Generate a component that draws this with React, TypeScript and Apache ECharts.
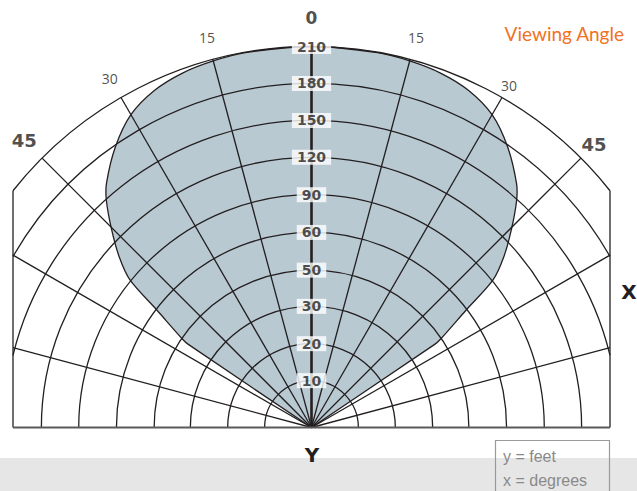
import React, { useEffect, useRef } from "react";
import * as echarts from "echarts";

// ---------- data ----------
// ring (distance) tick labels in feet, and ring positions (outer ring = 10)
const ringLabels = ["10", "20", "30", "50", "60", "90", "120", "150", "180", "210"];
const ringPos = [1.23, 2.2, 3.18, 4.13, 5.12, 6.11, 7.09, 8.06, 9.03, 10];
// spokes, degrees from vertical (negative = left)
const spokeAngles = [-75, -60, -45, -30, -15, 0, 15, 30, 45, 60, 75];
// angle tick labels
const angleLabelDeg = [-45, -30, -15, 0, 15, 30, 45];
const angleLabelText = ["45", "30", "15", "0", "15", "30", "45"];
// viewing-angle pattern boundary (polar: degrees, ring radius)
const shapeAngles = [-56, -56, -55.6, -52.8, -50.9, -48.5, -45.3, -42.1, -40, -35, -30, -25, -20, -15, -10, 0, 10, 15, 20, 25, 30, 35, 40, 42.1, 45.3, 48.5, 50.9, 52.8, 55.6, 56, 56];
const shapeRadii = [0, 3.9, 4.1, 5.09, 6.14, 6.73, 7.38, 8.03, 8.37, 8.98, 9.48, 9.76, 9.9, 9.96, 9.99, 10, 9.99, 9.96, 9.9, 9.76, 9.48, 8.98, 8.37, 8.03, 7.38, 6.73, 6.14, 5.09, 4.1, 3.9, 0];

// ---------- layout ----------
const W = 637;
const H = 491;
const U = 38.1; // px per radius unit
const GRID_LEFT = 13;
const GRID_RIGHT = 27;
const GRID_BOTTOM = 63.5;
const XH = (W - GRID_LEFT - GRID_RIGHT) / 2 / U;
const YMAX = (H - GRID_BOTTOM) / U;
const R_OUT = 10;
const angleLabelR = [10.66, 10.59, 10.6, 10.75, 10.59, 10.37, 10.49];
const LINE = "#231f20";
const FONT = "Lato, 'Open Sans', sans-serif";
const FONT2 = "'Open Sans', 'Noto Sans', sans-serif";
const FONTB = "'DejaVu Sans', sans-serif";

const rad = (d: number) => (d * Math.PI) / 180;

export default function App() {
  const ref = useRef<HTMLDivElement>(null);

  useEffect(() => {
    if (!ref.current) return;
    const chart = echarts.init(ref.current, undefined, { renderer: "svg" });

    const option: any = {
      animation: false,
      backgroundColor: "#ffffff",
      grid: { left: GRID_LEFT, right: GRID_RIGHT, top: 0, bottom: GRID_BOTTOM },
      xAxis: { type: "value", min: -XH, max: XH, show: false },
      yAxis: { type: "value", min: 0, max: YMAX, show: false },
      graphic: [
        { type: "rect", z: 0, shape: { x: 0, y: 458, width: W, height: H - 458 }, style: { fill: "#e6e6e6" } },
        { type: "rect", z: 1, shape: { x: 495.5, y: 440.5, width: 114, height: 70 }, style: { fill: "none", stroke: "#9a9a9a", lineWidth: 1.2 } },
        { type: "text", z: 2, x: 503, y: 456, style: { text: "y = feet", fill: "#8a8a8a", font: "16px 'Liberation Sans', Arial, sans-serif", textAlign: "left", textVerticalAlign: "middle" } },
        { type: "text", z: 2, x: 503, y: 480, style: { text: "x = degrees", fill: "#8a8a8a", font: "16px 'Liberation Sans', Arial, sans-serif", textAlign: "left", textVerticalAlign: "middle" } },
        { type: "text", z: 2, x: 624, y: 33, style: { text: "Viewing Angle", fill: "#f07224", font: "19px " + FONT, textAlign: "right", textVerticalAlign: "middle" } },
        { type: "text", z: 2, x: 629, y: 292, style: { text: "X", fill: LINE, font: "bold 20px " + FONTB, textAlign: "center", textVerticalAlign: "middle" } },
        { type: "text", z: 2, x: 312, y: 455, style: { text: "Y", fill: LINE, font: "bold 20px " + FONTB, textAlign: "center", textVerticalAlign: "middle" } },
      ],
      series: [
        {
          type: "custom",
          name: "pattern",
          z: 1,
          clip: false,
          data: [[0]],
          renderItem: (params: any, api: any) => {
            const pts = shapeAngles.map((a, i) =>
              api.coord([shapeRadii[i] * Math.sin(rad(a)), shapeRadii[i] * Math.cos(rad(a))])
            );
            return {
              type: "polygon",
              shape: { points: pts, smooth: 0.3 },
              style: { fill: "#b9c9d2", stroke: LINE, lineWidth: 1.3 },
            };
          },
        },
        {
          type: "custom",
          name: "rings",
          z: 2,
          clip: false,
          data: ringPos.map((r) => [r]),
          renderItem: (params: any, api: any) => {
            const r = api.value(0);
            const c = api.coord([0, 0]);
            const rp = api.size([r, 0])[0];
            const hw = api.size([XH, 0])[0];
            const a = rp > hw ? Math.acos(hw / rp) : 0;
            return {
              type: "arc",
              shape: { cx: c[0], cy: c[1], r: rp, startAngle: Math.PI + a, endAngle: 2 * Math.PI - a, clockwise: true },
              style: { stroke: LINE, lineWidth: 1.3, fill: "none" },
            };
          },
        },
        {
          type: "custom",
          name: "spokes",
          z: 2,
          clip: false,
          data: spokeAngles.map((a) => [a]),
          renderItem: (params: any, api: any) => {
            const a = rad(api.value(0));
            const s = Math.abs(Math.sin(a));
            const rEnd = s > 0 ? Math.min(R_OUT, XH / s) : R_OUT;
            const p0 = api.coord([0, 0]);
            const p1 = api.coord([rEnd * Math.sin(a), rEnd * Math.cos(a)]);
            return {
              type: "line",
              shape: { x1: p0[0], y1: p0[1], x2: p1[0], y2: p1[1] },
              style: { stroke: LINE, lineWidth: api.value(0) === 0 ? 2.6 : 1.3 },
            };
          },
        },
        {
          type: "custom",
          name: "frame",
          z: 2,
          clip: false,
          data: [[0]],
          renderItem: (params: any, api: any) => {
            const yEdge = Math.sqrt(R_OUT * R_OUT - XH * XH);
            const a = api.coord([-XH, yEdge]);
            const b = api.coord([-XH, 0]);
            const c = api.coord([XH, 0]);
            const d = api.coord([XH, yEdge]);
            return {
              type: "group",
              children: [
                { type: "line", shape: { x1: a[0], y1: a[1], x2: b[0], y2: b[1] }, style: { stroke: LINE, lineWidth: 1.3 } },
                { type: "line", shape: { x1: d[0], y1: d[1], x2: c[0], y2: c[1] }, style: { stroke: LINE, lineWidth: 1.3 } },
                { type: "line", shape: { x1: b[0], y1: b[1], x2: c[0], y2: c[1] }, style: { stroke: "#5a5a5a", lineWidth: 2.2 } },
              ],
            };
          },
        },
        {
          type: "scatter",
          name: "ringLabels",
          z: 5,
          clip: false,
          symbolSize: 1,
          itemStyle: { color: "rgba(0,0,0,0)" },
          data: ringPos.map((r) => [0, r]),
          label: {
            show: true,
            position: "inside",
            formatter: (p: any) => ringLabels[p.dataIndex],
            color: LINE,
            fontFamily: FONTB,
            fontWeight: "bold",
            fontSize: 14,
            lineHeight: 15,
            backgroundColor: "#ffffff",
            padding: [0, 5, 0, 5],
          },
        },
        {
          type: "scatter",
          name: "angleLabels",
          z: 5,
          clip: false,
          symbolSize: 1,
          itemStyle: { color: "rgba(0,0,0,0)" },
          data: angleLabelDeg.map((d, i) => {
            const big = angleLabelText[i] === "0" || angleLabelText[i] === "45";
            const r = angleLabelR[i];
            return {
              value: [r * Math.sin(rad(d)), r * Math.cos(rad(d))],
              label: {
                fontFamily: big ? FONTB : FONT2,
                fontWeight: big ? "bold" : "normal",
                fontSize: angleLabelText[i] === "0" ? 17 : big ? 18 : 14,
              },
            };
          }),
          label: {
            show: true,
            position: "inside",
            formatter: (p: any) => angleLabelText[p.dataIndex],
            color: LINE,
          },
        },
      ],
    };

    chart.setOption(option);
    return () => chart.dispose();
  }, []);

  return <div ref={ref} style={{ position: "absolute", left: 0, top: 0, width: W, height: H }} />;
}
